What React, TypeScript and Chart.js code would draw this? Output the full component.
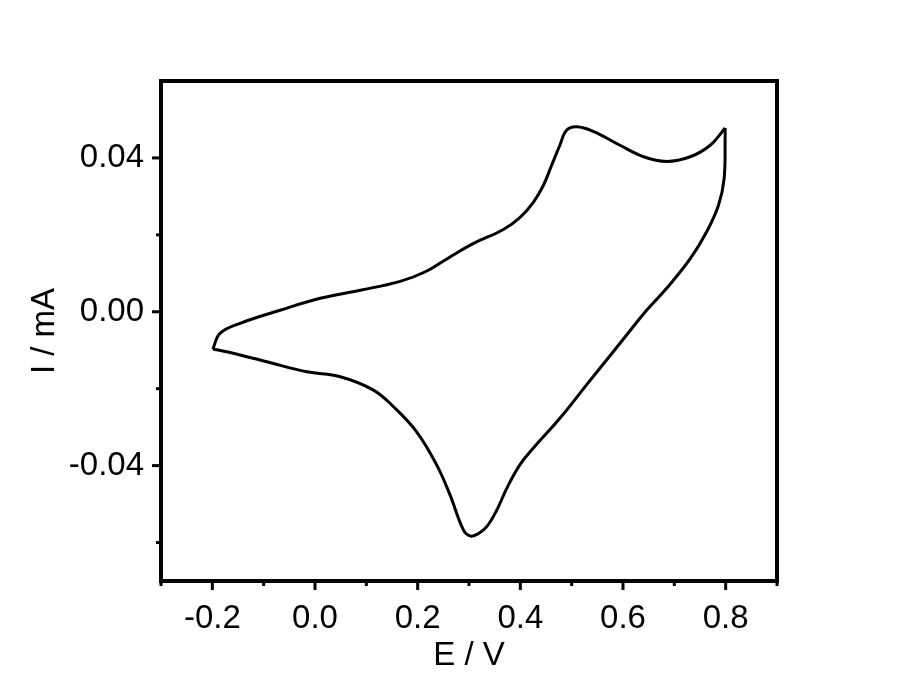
import React, { useEffect, useRef } from "react";
import { Chart, registerables } from "chart.js";

Chart.register(...registerables);

// Anodic (forward) sweep: -0.2 V -> 0.8 V
const forwardE = [-0.199, -0.185, -0.146, -0.068, 0.01, 0.088, 0.166, 0.215, 0.26, 0.308, 0.367, 0.399, 0.425, 0.445, 0.461, 0.477, 0.49, 0.51, 0.542, 0.594, 0.64, 0.685, 0.731, 0.77, 0.799];
const forwardI = [-0.0097, -0.0056, -0.003, 0.0004, 0.0035, 0.0056, 0.0079, 0.0104, 0.014, 0.0177, 0.0214, 0.0245, 0.0284, 0.0329, 0.0381, 0.0433, 0.0472, 0.0481, 0.0469, 0.0433, 0.0403, 0.0391, 0.0403, 0.0433, 0.0478];

// Cathodic (reverse) sweep: 0.8 V -> -0.2 V
const reverseE = [0.799, 0.799, 0.797, 0.786, 0.763, 0.731, 0.685, 0.646, 0.633, 0.581, 0.529, 0.477, 0.425, 0.399, 0.374, 0.354, 0.335, 0.318, 0.303, 0.289, 0.263, 0.237, 0.198, 0.153, 0.113, 0.049, -0.016, -0.094, -0.172, -0.199];
const reverseI = [0.0478, 0.0459, 0.0346, 0.0277, 0.0208, 0.0138, 0.0061, 0.0004, -0.0017, -0.0104, -0.019, -0.0277, -0.0355, -0.0398, -0.0458, -0.0516, -0.0558, -0.0577, -0.0583, -0.0567, -0.0476, -0.0398, -0.0312, -0.0247, -0.0203, -0.0169, -0.0156, -0.013, -0.0104, -0.0097];

const xMajorTicks = [-0.2, 0.0, 0.2, 0.4, 0.6, 0.8];
const xMinorTicks = [-0.3, -0.1, 0.1, 0.3, 0.5, 0.7, 0.9];
const yMajorTicks = [-0.04, 0.0, 0.04];
const yMinorTicks = [-0.06, -0.02, 0.02];

const xTitle = "E / V";
const yTitle = "I / mA";

const FONT = "'Liberation Sans', Arial, sans-serif";

const toPoints = (xs: number[], ys: number[]) => xs.map((x, i) => ({ x, y: ys[i] }));

const framePlugin = {
  id: "frameTicks",
  afterDraw(chart: any) {
    const { ctx, chartArea } = chart;
    const xs = chart.scales.x;
    const ys = chart.scales.y;
    ctx.save();
    ctx.strokeStyle = "#000";
    ctx.lineWidth = 4;
    ctx.lineCap = "square";
    ctx.strokeRect(chartArea.left, chartArea.top, chartArea.right - chartArea.left, chartArea.bottom - chartArea.top);
    ctx.lineWidth = 3;
    ctx.lineCap = "butt";
    const drawX = (v: number, len: number) => {
      const px = xs.getPixelForValue(v);
      ctx.beginPath();
      ctx.moveTo(px, chartArea.bottom);
      ctx.lineTo(px, chartArea.bottom + len);
      ctx.stroke();
    };
    const drawY = (v: number, len: number) => {
      const py = ys.getPixelForValue(v);
      ctx.beginPath();
      ctx.moveTo(chartArea.left, py);
      ctx.lineTo(chartArea.left - len, py);
      ctx.stroke();
    };
    xMajorTicks.forEach((v) => drawX(v, 9));
    xMinorTicks.forEach((v) => drawX(v, 5));
    yMajorTicks.forEach((v) => drawY(v, 9));
    yMinorTicks.forEach((v) => drawY(v, 5));
    ctx.restore();
  },
};

export default function App() {
  const canvasRef = useRef<HTMLCanvasElement | null>(null);

  useEffect(() => {
    if (!canvasRef.current) return;
    const lineStyle = {
      showLine: true,
      borderColor: "#000",
      borderWidth: 3,
      pointRadius: 0,
      tension: 0.4,
      fill: false,
    };
    const chart = new Chart(canvasRef.current, {
      type: "scatter",
      data: {
        datasets: [
          { data: toPoints(forwardE, forwardI), ...lineStyle },
          { data: toPoints(reverseE, reverseI), ...lineStyle },
        ],
      },
      options: {
        animation: false,
        responsive: true,
        maintainAspectRatio: false,
        layout: { padding: { top: 81, right: 123, left: 0, bottom: 0 } },
        plugins: { legend: { display: false }, tooltip: { enabled: false } },
        scales: {
          x: {
            type: "linear",
            min: -0.3,
            max: 0.9,
            afterBuildTicks: (scale: any) => {
              scale.ticks = xMajorTicks.map((v) => ({ value: v }));
            },
            afterFit: (scale: any) => {
              scale.height = 114;
            },
            grid: { display: false, drawTicks: false },
            border: { display: false },
            ticks: {
              color: "#000",
              font: { family: FONT, size: 33 },
              padding: 18,
              maxRotation: 0,
              callback: (v: any) => Number(v).toFixed(1),
            },
            title: {
              display: true,
              text: xTitle,
              color: "#000",
              font: { family: FONT, size: 33 },
              padding: { top: 0, bottom: 19 },
            },
          },
          y: {
            type: "linear",
            min: -0.07,
            max: 0.06,
            afterBuildTicks: (scale: any) => {
              scale.ticks = yMajorTicks.map((v) => ({ value: v }));
            },
            afterFit: (scale: any) => {
              scale.width = 161;
            },
            grid: { display: false, drawTicks: false },
            border: { display: false },
            ticks: {
              color: "#000",
              font: { family: FONT, size: 33 },
              padding: 17,
              callback: (v: any) => Number(v).toFixed(2),
            },
            title: {
              display: true,
              text: yTitle,
              color: "#000",
              font: { family: FONT, size: 33 },
              padding: { top: 25, bottom: 0 },
            },
          },
        },
      },
      plugins: [framePlugin],
    });
    return () => chart.destroy();
  }, []);

  return (
    <div style={{ position: "fixed", left: 0, top: 0, width: 900, height: 695, background: "#fff" }}>
      <canvas ref={canvasRef} />
    </div>
  );
}
